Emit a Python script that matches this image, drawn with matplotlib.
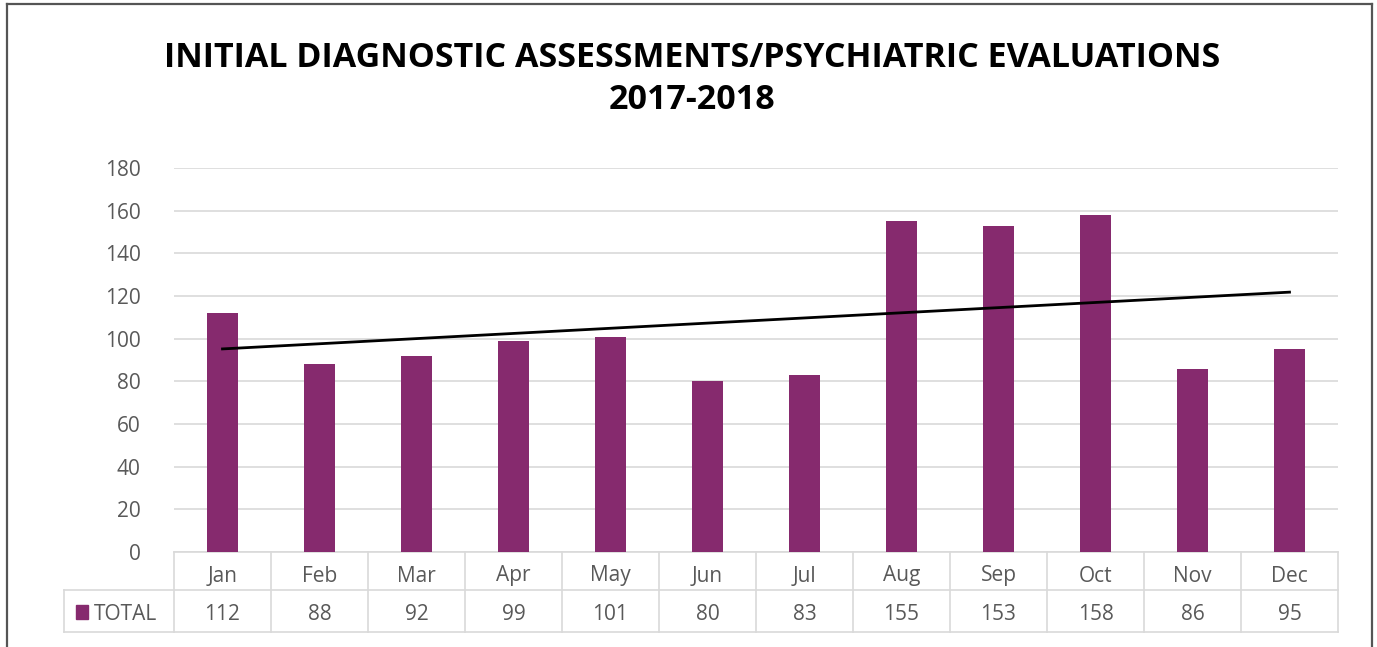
import matplotlib.pyplot as plt
import numpy as np
from matplotlib.transforms import blended_transform_factory
from matplotlib.patches import Rectangle

plt.rcParams["font.family"] = ["Open Sans", "DejaVu Sans"]

months = ["Jan", "Feb", "Mar", "Apr", "May", "Jun", "Jul", "Aug", "Sep", "Oct", "Nov", "Dec"]
totals = [112, 88, 92, 99, 101, 80, 83, 155, 153, 158, 86, 95]
series_name = "TOTAL"
title = "INITIAL DIAGNOSTIC ASSESSMENTS/PSYCHIATRIC EVALUATIONS\n2017-2018"

W, H = 1377, 647
BAR = "#862A6E"
GRID = "#d9d9d9"
TXT = "#595959"


def fx(px):
    return px / W


def fy(py):
    return 1 - py / H


fig = plt.figure(figsize=(W / 100, H / 100), dpi=100)
ax = fig.add_axes([fx(174), fy(552), fx(1338) - fx(174), fy(168) - fy(552)])

x = np.arange(len(months))
ax.bar(x, totals, width=0.31, color=BAR, zorder=3)

# linear trendline
k, b = np.polyfit(x, totals, 1)
ax.plot(x, k * x + b, color="black", lw=2, zorder=4)

ax.set_xlim(-0.5, len(months) - 0.5)
ax.set_ylim(0, 180)
ax.set_yticks(range(0, 181, 20))
ax.yaxis.grid(True, color=GRID, lw=1.2, zorder=0)
ax.set_xticks([])
for s in ["top", "right", "left"]:
    ax.spines[s].set_visible(False)
ax.spines["bottom"].set_color(GRID)
ax.spines["bottom"].set_linewidth(1.2)
ax.tick_params(axis="y", length=0, pad=24, labelsize=15, labelcolor=TXT)

# data table below the axis
tr = blended_transform_factory(ax.transData, fig.transFigure)
y_top, y_mid, y_bot = fy(552), fy(590), fy(632)
for i in range(len(months) + 1):
    ax.plot([i - 0.5, i - 0.5], [y_top, y_bot], color=GRID, lw=1.2,
            transform=tr, clip_on=False)
for yy in (y_mid, y_bot):
    fig.add_artist(plt.Line2D([fx(64), fx(1338)], [yy, yy], color=GRID, lw=1.2))
fig.add_artist(plt.Line2D([fx(64), fx(64)], [y_mid, y_bot], color=GRID, lw=1.2))

for i, (m, v) in enumerate(zip(months, totals)):
    ax.text(i, fy(576), m, transform=tr, ha="center", va="center",
            fontsize=15, color=TXT)
    ax.text(i, fy(615), str(v), transform=tr, ha="center", va="center",
            fontsize=15, color=TXT)

fig.add_artist(Rectangle((fx(76), fy(619)), fx(12), fy(605) - fy(619),
                         color=BAR, transform=fig.transFigure))
fig.text(fx(94), fy(615), series_name, ha="left", va="center",
         fontsize=15, color=TXT)

fig.text(fx(692), fy(79), title, ha="center", va="center", fontsize=24.5,
         fontweight="bold", color="black", linespacing=1.3)

# chart frame
for (x0, y0, x1, y1) in [(7, 4, 1372, 4), (7, 4, 7, 647), (1372, 4, 1372, 647)]:
    fig.add_artist(plt.Line2D([fx(x0), fx(x1)], [fy(y0), fy(y1)],
                              color="#555555", lw=1.6))

fig.savefig("out.png", dpi=100)
